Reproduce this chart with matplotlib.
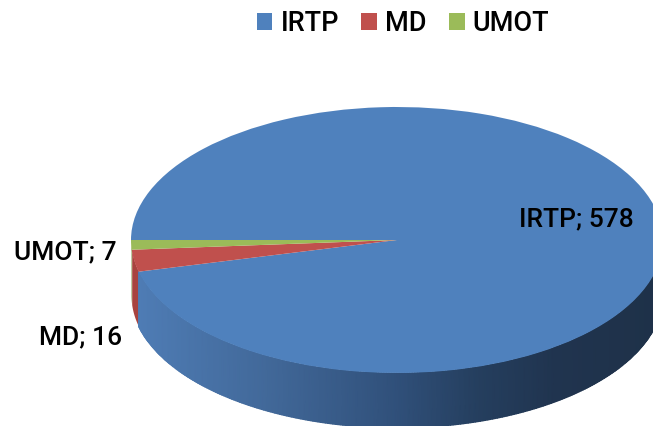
import numpy as np
from matplotlib import pyplot as plt
from matplotlib.colors import LinearSegmentedColormap

categories = ['IRTP', 'MD', 'UMOT']
values = [578, 16, 7]
colors = ['#4f81bd', '#c0504d', '#9bbb59']
side_colors = ['#4f81bd', '#a8433f', '#7f9a48']

W, H = 653, 426
cx, cy = 397, 240     # pie centre in pixels
rx, ry = 266, 133     # ellipse radii in pixels
depth = 55 / ry       # wall height in pie units

plt.rcParams['font.family'] = ['Roboto', 'DejaVu Sans']
fig = plt.figure(figsize=(W / 100, H / 100), dpi=100)
ax = fig.add_axes([0, 0, 1, 1])

# 顶面: unit circle squashed by the axis limits
wedges, _ = ax.pie(values, startangle=180, counterclock=False, colors=colors,
                   wedgeprops={'linewidth': 0, 'zorder': 3})
ax.set_aspect('auto')
ax.set_xlim(-cx / rx, (W - cx) / rx)
ax.set_ylim((cy - H) / ry, cy / ry)

# slice boundaries, angle measured from the left edge towards the front
angles = np.cumsum(values[::-1]) / sum(values) * 360.0

# 侧面 of the two small slices
start = 180.0
for ang, c in zip(angles[:2], side_colors[:0:-1]):
    t = np.radians(np.linspace(start, 180.0 + ang, 20))
    ax.fill_between(np.cos(t), np.sin(t), np.sin(t) - depth, color=c, lw=0, zorder=1)
    start = 180.0 + ang

# front wall of the big slice, darkens from left to right
wall = LinearSegmentedColormap.from_list('wall', [
    (0.0, '#4f7db6'), (0.25, '#42699a'), (0.5, '#30507a'),
    (0.65, '#253f5f'), (0.8, '#20344f'), (1.0, '#1e3148')])
t = np.radians(np.linspace(start, 360.0, 300))
X = np.vstack([np.cos(t), np.cos(t)])
Y = np.vstack([np.sin(t), np.sin(t) - depth])
C = np.vstack([X[0], X[0]])
ax.pcolormesh(X, Y, C, cmap=wall, vmin=-1, vmax=1, shading='gouraud', zorder=2)

# 数据标签
label_pos = {'IRTP': (576, 219, 'center'), 'MD': (122, 337, 'right'), 'UMOT': (117, 252, 'right')}
for name, val in zip(categories, values):
    x, y, ha = label_pos[name]
    fig.text(x / W, 1 - y / H, f'{name}; {val}', ha=ha, va='center', fontsize=19,
             fontweight='medium', color='black')

leg = ax.legend(wedges, categories, ncol=3, frameon=False, loc='upper center',
                bbox_to_anchor=(403 / W, 1 + 12 / H), fontsize=19.5, handlelength=0.58,
                handleheight=0.58, handletextpad=0.3, columnspacing=0.82, borderpad=0.3)
for txt in leg.get_texts():
    txt.set_fontweight('medium')

fig.savefig('out.png', dpi=100)
